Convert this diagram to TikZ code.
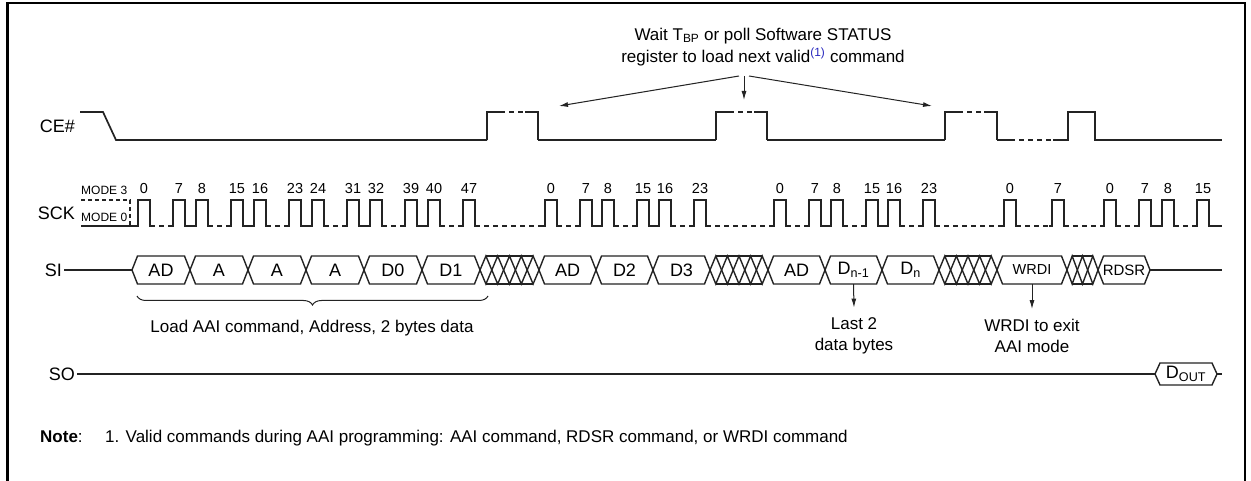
\documentclass[tikz,border=0pt]{standalone}
\usepackage{fontspec}
\setmainfont{Liberation Sans}
\usetikzlibrary{arrows.meta,decorations.pathreplacing}
\definecolor{wire}{RGB}{35,35,35}
\definecolor{linkblue}{RGB}{40,40,190}

% one clock pulse: rise x, label, name
\newcommand{\clk}[3]{%
  \draw[sig] (#1-3,226) -- (#1,226) -- (#1,200) -- (#1+12,200) -- (#1+12,226) -- (#1+15,226);
  \node[num] (#3) at (#1+6,194) {#2};}
% one SI byte: from, to, name, label
\newcommand{\seg}[4]{%
  \draw[bus] (#1,270) -- (#1+5.5,256) -- (#2-5.5,256) -- (#2,270) -- (#2-5.5,284) -- (#1+5.5,284) -- cycle;
  \node[lbl, inner sep=0pt, minimum width={(#2-#1)*1pt}, minimum height=28pt] (#3) at ({(#1+#2)/2},270) {#4};}
% don't care: from, to, count
\newcommand{\xhatch}[3]{%
  \pgfmathsetmacro\hw{(#2-#1)/#3}
  \foreach \i in {1,...,#3}
    \draw[bus] ({#1+(\i-1)*\hw},270) -- ({#1+(\i-0.5)*\hw},256) -- ({#1+\i*\hw},270) -- ({#1+(\i-0.5)*\hw},284) -- cycle;
  \draw[bus] ({#1+0.5*\hw},256) -- ({#2-0.5*\hw},256) ({#1+0.5*\hw},284) -- ({#2-0.5*\hw},284);}
% CE# high pulse
\newcommand{\cepulse}[2]{%
  \draw[sig] (#1,140) -- (#1,112) -- (#1+13,112);
  \draw[sig,lowdash] (#1+13,112) -- (#2-13,112);
  \draw[sig] (#2-13,112) -- (#2,112) -- (#2,140);}

\begin{document}
\begin{tikzpicture}[x=1pt, y=-1pt,
  sig/.style={wire, line width=1.7pt},
  bus/.style={wire, line width=1.4pt},
  lowdash/.style={dash pattern=on 5pt off 4pt},
  lbl/.style={font=\fontsize{18}{21}\selectfont, inner sep=2pt},
  txt/.style={font=\fontsize{17}{21}\selectfont, align=center},
  num/.style={font=\fontsize{14.5}{16}\selectfont, anchor=base, inner sep=0pt},
  modetxt/.style={font=\fontsize{12}{14}\selectfont, inner sep=0pt},
  arr/.style={wire, -{Latex[length=9pt,width=5pt]}, line width=1pt}]
\useasboundingbox (0,0) rectangle (1251,481);

% Frame
\draw[line width=2.5pt] (7.5,481) -- (7.5,3) -- (1245,3) -- (1245,481);

% Note on top
\node[txt, font=\fontsize{17}{22}\selectfont] (wait) at (763,47)
  {Wait T\textsubscript{BP} or poll Software STATUS\\register to load next valid\textsuperscript{\color{linkblue}(1)} command};
\coordinate (wl) at (739,76);
\coordinate (wm) at (744,76);
\coordinate (wr) at (749,76);
\coordinate (tl) at (559,106);
\coordinate (tm) at (744,100);
\coordinate (tr) at (932,106);
\draw[arr] (wl) -- (tl);
\draw[arr] (wm) -- (tm);
\draw[arr] (wr) -- (tr);

% CE#
\node[lbl, anchor=east] (ce) at (77,126) {CE\#};
\draw[sig] (80,112) -- (103,112) -- (116,140) -- (487,140);
\cepulse{487}{538}
\draw[sig] (538,140) -- (716,140);
\cepulse{716}{767}
\draw[sig] (767,140) -- (945,140);
\cepulse{945}{997}
\draw[sig] (997,140) -- (1010,140);
\draw[sig,lowdash] (1010,140) -- (1053,140);
\draw[sig] (1053,140) -- (1068,140) -- (1068,112) -- (1095,112) -- (1095,140) -- (1222,140);

% SCK
\node[lbl, anchor=east] (sck) at (77,213) {SCK};
\node[modetxt, anchor=base west] (m3) at (81,195) {MODE 3};
\node[modetxt, anchor=base west] (m0) at (81,222) {MODE 0};
\draw[wire, line width=1.2pt, dash pattern=on 4pt off 3pt] (81,200) -- (130,200) -- (130,226);
\draw[sig] (81,226) -- (135,226);
\foreach \s/\p/\n/\g in {138/58/6/a, 545/57/3/b, 774/57/3/c, 1104/58/2/e}{
  \foreach \k in {1,...,\n}{
    \pgfmathsetmacro\xa{\s+(\k-1)*\p}
    \pgfmathsetmacro\xb{\xa+35}
    \pgfmathtruncatemacro\lo{8*(\k-1)}
    \pgfmathtruncatemacro\hi{8*\k-1}
    \clk{\xa}{\lo}{\g\lo}
    \clk{\xb}{\hi}{\g\hi}
    \draw[sig,lowdash] (\xa+12,226) -- (\xb,226);
    \ifnum\k<\n \draw[sig] (\xb+12,226) -- (\xa+\p,226); \fi
  }
}
\clk{1004}{0}{d0}
\clk{1052}{7}{d7}
\foreach \a/\b in {475/545, 706/774, 935/1004, 1016/1052, 1064/1104}
  \draw[sig,lowdash] (\a,226) -- (\b,226);
\draw[sig] (1209,226) -- (1222,226);

% SI
\node[lbl, anchor=east] (si) at (64,270) {SI};
\seg{132}{190}{ad1}{AD}
\seg{190}{248}{a1}{A}
\seg{248}{306}{a2}{A}
\seg{306}{364}{a3}{A}
\seg{364}{422}{d0b}{D0}
\seg{422}{480}{d1b}{D1}
\xhatch{480}{539}{5}
\seg{539}{596}{ad2}{AD}
\seg{596}{653}{d2b}{D2}
\seg{653}{710}{d3b}{D3}
\xhatch{710}{768}{5}
\seg{768}{825}{ad3}{AD}
\seg{825}{882}{dnm}{D\textsubscript{n-1}}
\seg{882}{939}{dn}{D\textsubscript{n}}
\xhatch{939}{997}{5}
\seg{997}{1067}{wrdi}{\fontsize{14.5}{16}\selectfont WRDI}
\xhatch{1067}{1098}{3}
\seg{1098}{1150}{rdsr}{\fontsize{15}{16}\selectfont RDSR}
\coordinate (siend) at (1222,270);
\draw[bus] (si.east) -- (ad1.west);
\draw[bus] (rdsr.east) -- (siend);

% brace and notes under SI
\draw[wire, line width=1pt, decorate, decoration={brace, mirror, amplitude=9pt}] (137,296) -- (488,296);
\node[txt] (load) at (312,328) {Load AAI command, Address, 2 bytes data};
\node[txt, inner ysep=10pt] (last) at (854,336) {Last 2\\data bytes};
\node[txt, inner ysep=10pt] (exit) at (1032,336) {WRDI to exit\\AAI mode};
\draw[arr] (dnm.south) -- (last.north);
\draw[arr] (wrdi.south) -- (exit.north);

% SO
\node[lbl, anchor=east] (so) at (77,374) {SO};
\draw[bus] (1155,374) -- (1160,363) -- (1212,363) -- (1217,374) -- (1212,385) -- (1160,385) -- cycle;
\node[lbl, inner sep=0pt, minimum width=62pt, minimum height=22pt] (dout) at (1186,374) {D\textsubscript{OUT}};
\coordinate (soend) at (1222,374);
\draw[bus] (so.east) -- (dout.west);
\draw[bus] (dout.east) -- (soend);

% Note
\node[txt, anchor=base west, inner sep=0pt] (note) at (40,442) {\textbf{Note}:};
\node[txt, anchor=base west, inner sep=0pt] (notetext) at (105,442)
  {1. Valid commands during AAI programming: AAI command, RDSR command, or WRDI command};
\end{tikzpicture}
\end{document}
